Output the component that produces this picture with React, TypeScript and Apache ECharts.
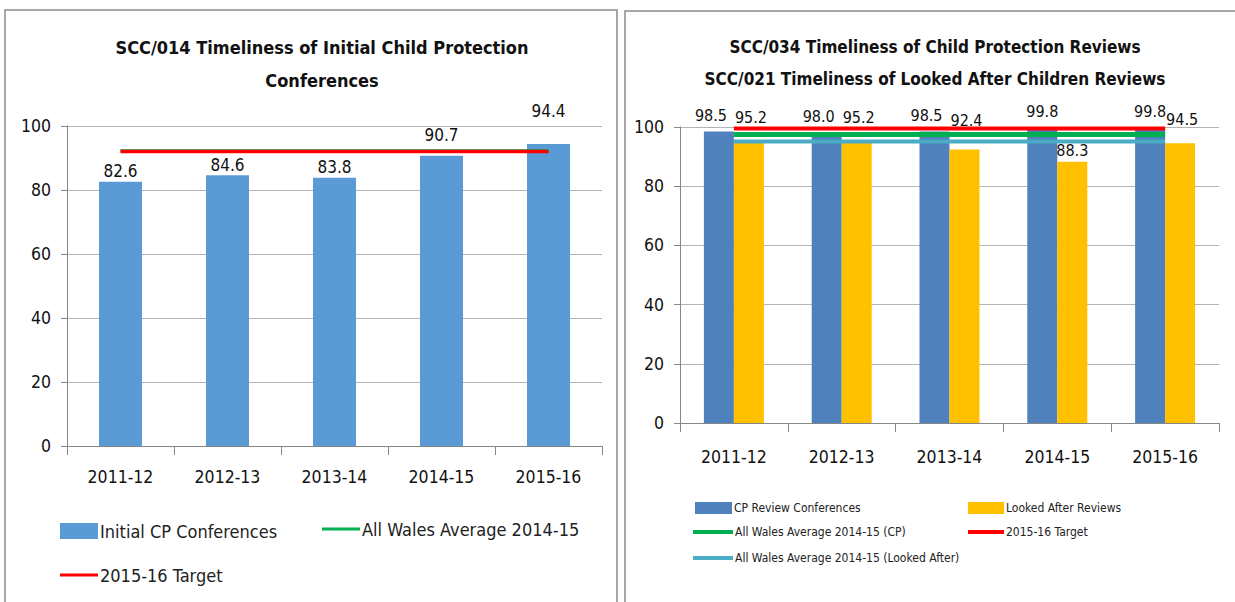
import React, { useEffect, useRef } from "react";
import * as echarts from "echarts";

const years = ["2011-12", "2012-13", "2013-14", "2014-15", "2015-16"];
const initialCP = [82.6, 84.6, 83.8, 90.7, 94.4];
const walesAvgInitial = [92.3, 92.3, 92.3, 92.3, 92.3];
const targetInitial = [92.0, 92.0, 92.0, 92.0, 92.0];

const cpReviews = [98.5, 98.0, 98.5, 99.8, 99.8];
const lacReviews = [95.2, 95.2, 92.4, 88.3, 94.5];
const walesAvgCP = [97.5, 97.5, 97.5, 97.5, 97.5];
const targetReviews = [99.5, 99.5, 99.5, 99.5, 99.5];
const walesAvgLAC = [95.1, 95.1, 95.1, 95.1, 95.1];

const FONT = "'DejaVu Sans Condensed', 'Liberation Sans Narrow', 'Liberation Sans', sans-serif";
const AXIS_COLOR = "#868686";
const GRID_COLOR = "#b4b4b4";

export default function App() {
  const ref = useRef<HTMLDivElement>(null);
  useEffect(() => {
    if (!ref.current) return;
    const chart = echarts.init(ref.current, undefined, { renderer: "svg" });
    const xAxisBase = (gridIndex: number, margin: number) => ({
      type: "category",
      gridIndex,
      data: years,
      axisLine: { lineStyle: { color: AXIS_COLOR, width: 1 } },
      axisTick: { show: true, length: 9, lineStyle: { color: AXIS_COLOR } },
      axisLabel: { color: "#111", fontSize: 17.5, fontFamily: FONT, margin },
      splitLine: { show: false },
    });
    const yAxisBase = (gridIndex: number) => ({
      type: "value",
      gridIndex,
      min: 0,
      max: 100,
      interval: 20,
      axisLine: { show: true, lineStyle: { color: AXIS_COLOR, width: 1 } },
      axisTick: { show: true, length: 6, lineStyle: { color: AXIS_COLOR } },
      axisLabel: { color: "#111", fontSize: 17.5, fontFamily: FONT, margin: 16 },
      splitLine: { show: true, lineStyle: { color: GRID_COLOR, width: 1 } },
    });
    const lineSeries = (name: string, data: number[], color: string, width: number, idx: number, z: number) => ({
      type: "line",
      name,
      data,
      xAxisIndex: idx,
      yAxisIndex: idx,
      symbol: "none",
      z,
      lineStyle: { color, width },
      itemStyle: { color },
    });
    const legendItem = (name: string, left: number, top: number, big: boolean, iw: number, ih: number) => ({
      data: [name],
      left,
      top,
      icon: "rect",
      itemWidth: iw,
      itemHeight: ih,
      itemGap: 4,
      padding: 0,
      selectedMode: false,
      textStyle: {
        fontFamily: FONT,
        fontSize: big ? 18 : 12,
        color: "#222",
        padding: [0, 0, 0, -3],
      },
    });
    const labelFmt = (p: any) => Number(p.value).toFixed(1);
    chart.setOption({
      animation: false,
      backgroundColor: "#ffffff",
      graphic: [
        {
          type: "rect",
          shape: { x: 5, y: 10, width: 612, height: 620 },
          style: { fill: "none", stroke: "#8a8a8a", lineWidth: 1.5 },
          silent: true,
          z: -10,
        },
        {
          type: "rect",
          shape: { x: 625, y: 11, width: 640, height: 620 },
          style: { fill: "none", stroke: "#8a8a8a", lineWidth: 1.5 },
          silent: true,
          z: -10,
        },
      ],
      title: [
        {
          text: "SCC/014 Timeliness of Initial Child Protection\nConferences",
          left: 317,
          top: 26,
          textAlign: "center",
          textStyle: { fontFamily: FONT, fontSize: 18, fontWeight: "bold", color: "#111", lineHeight: 33 },
        },
        {
          text: "SCC/034 Timeliness of Child Protection Reviews\nSCC/021 Timeliness of Looked After Children Reviews",
          left: 930,
          top: 26,
          textAlign: "center",
          textStyle: { fontFamily: FONT, fontSize: 17, fontWeight: "bold", color: "#111", lineHeight: 32 },
        },
      ],
      legend: [
        legendItem("Initial CP Conferences", 60, 522, true, 38, 16),
        legendItem("All Wales Average 2014-15", 322, 520, true, 38, 3),
        legendItem("2015-16 Target", 60, 566, true, 38, 3),
        legendItem("CP Review Conferences", 695, 502, false, 37, 12),
        legendItem("Looked After Reviews", 968, 502, false, 36, 12),
        legendItem("All Wales Average 2014-15 (CP)", 693, 526, false, 40, 4),
        legendItem("2015-16 Target ", 968, 526, false, 36, 4),
        legendItem("All Wales Average 2014-15 (Looked After)", 693, 552, false, 40, 4),
      ],
      grid: [
        { left: 67, right: 633, top: 126, bottom: 156 },
        { left: 680, right: 16, top: 127, bottom: 179 },
      ],
      xAxis: [xAxisBase(0, 22), xAxisBase(1, 25)],
      yAxis: [yAxisBase(0), yAxisBase(1)],
      series: [
        {
          type: "bar",
          name: "Initial CP Conferences",
          data: initialCP,
          xAxisIndex: 0,
          yAxisIndex: 0,
          barWidth: 43,
          itemStyle: { color: "#5B9BD5" },
          label: {
            show: true,
            position: "top",
            distance: 2,
            color: "#111",
            fontSize: 17,
            fontFamily: FONT,
            formatter: labelFmt,
          },
          labelLayout: (p: any) => ({ dy: p.dataIndex === 3 ? -10 : p.dataIndex === 4 ? -22 : 0 }),
        },
        lineSeries("All Wales Average 2014-15", walesAvgInitial, "#00B050", 3, 0, 3),
        lineSeries("2015-16 Target", targetInitial, "#FF0000", 3.5, 0, 4),
        {
          type: "bar",
          name: "CP Review Conferences",
          data: cpReviews,
          xAxisIndex: 1,
          yAxisIndex: 1,
          barWidth: 30,
          barGap: "0%",
          itemStyle: { color: "#4F81BD" },
          label: {
            show: true,
            position: "top",
            distance: 8,
            color: "#111",
            fontSize: 16,
            fontFamily: FONT,
            formatter: labelFmt,
          },
          labelLayout: (p: any) => (p.dataIndex < 3 ? { dx: -8 } : {}),
        },
        {
          type: "bar",
          name: "Looked After Reviews",
          data: lacReviews,
          xAxisIndex: 1,
          yAxisIndex: 1,
          barWidth: 30,
          barGap: "0%",
          itemStyle: { color: "#FFC000" },
          label: {
            show: true,
            position: "top",
            distance: 3,
            color: "#111",
            fontSize: 16,
            fontFamily: FONT,
            formatter: labelFmt,
          },
          labelLayout: (p: any) =>
            p.dataIndex === 3 ? {} : { dx: 2, dy: p.dataIndex === 2 ? -18 : -13 },
        },
        lineSeries("All Wales Average 2014-15 (CP)", walesAvgCP, "#00B050", 5, 1, 3),
        lineSeries("2015-16 Target ", targetReviews, "#FF0000", 4, 1, 4),
        lineSeries("All Wales Average 2014-15 (Looked After)", walesAvgLAC, "#4BACC6", 4, 1, 3),
      ],
    });
    return () => chart.dispose();
  }, []);
  return (
    <div
      ref={ref}
      style={{ position: "fixed", left: 0, top: 0, width: 1235, height: 602, background: "#fff" }}
    />
  );
}
